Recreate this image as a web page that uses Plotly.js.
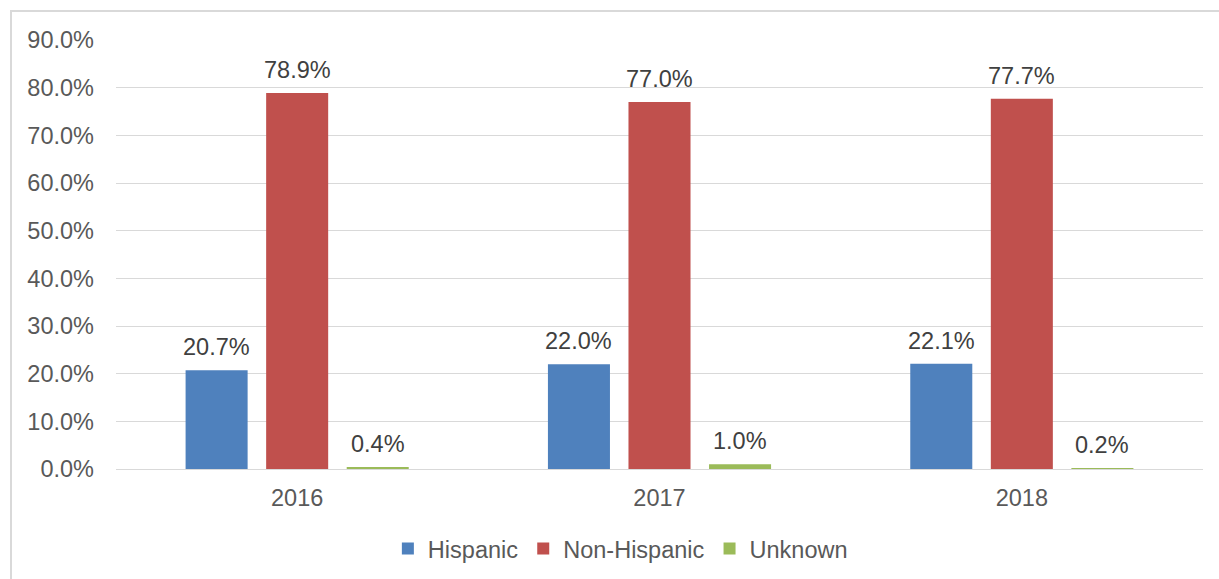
<!DOCTYPE html>
<html><head><meta charset="utf-8">
<script src="https://cdn.plot.ly/plotly-3.0.1.min.js"></script>
<style>
html,body{margin:0;padding:0;background:#fff;}
#wrap{position:relative;width:1219px;height:579px;overflow:hidden;}
#chart{width:1219px;height:579px;}
#frame{position:absolute;left:10px;top:10px;width:1300px;height:700px;border:2px solid #d9d9d9;pointer-events:none;box-sizing:border-box;}
</style></head>
<body><div id="wrap"><div id="chart"></div><div id="frame"></div></div>
<script>
var years = ['2016', '2017', '2018'];
var hispanic = [20.7, 22.0, 22.1];
var nonHispanic = [78.9, 77.0, 77.7];
var unknown = [0.4, 1.0, 0.2];
var seriesNames = ['Hispanic', 'Non-Hispanic', 'Unknown'];
var colors = ['#4f81bd', '#c0504d', '#9bbb59'];
var yTicks = [0, 10, 20, 30, 40, 50, 60, 70, 80, 90];

var FS = 23.5;
var font = {family: 'Liberation Sans, Arial, sans-serif', size: FS, color: '#595959'};
var series = [hispanic, nonHispanic, unknown];
var W = 1219, H = 579, ML = 116, MR = 16, MT = 40, MB = 110;
var bargap = 0.333, bargroupgap = 0.23;
var plotW = W - ML - MR;
var slot = plotW / years.length * (1 - bargap) / series.length;

var data = series.map(function(v, i){
  return {
    type: 'bar', name: seriesNames[i], x: years, y: v,
    marker: {color: colors[i]}, hoverinfo: 'skip'
  };
});
var annotations = [];
series.forEach(function(v, i){
  v.forEach(function(val, j){
    annotations.push({
      x: j, y: val, xref: 'x', yref: 'y',
      text: val.toFixed(1) + '%', showarrow: false,
      xanchor: 'center', yanchor: 'bottom',
      xshift: (i - (series.length - 1) / 2) * slot, yshift: 8,
      font: {family: font.family, size: FS, color: '#404040'}
    });
  });
});
var layout = {
  width: W, height: H,
  margin: {l: ML, r: MR, t: MT, b: MB, autoexpand: false},
  paper_bgcolor: '#fff', plot_bgcolor: '#fff',
  font: font,
  barmode: 'group', bargap: bargap, bargroupgap: bargroupgap,
  xaxis: {type: 'category', categoryorder: 'array', categoryarray: years, range: [-0.5, years.length - 0.5],
          showgrid: false, showline: true, linecolor: '#d9d9d9', linewidth: 1,
          ticks: '', tickfont: font, ticklabelstandoff: 8, automargin: false},
  yaxis: {range: [0, 90], tickvals: yTicks, ticktext: yTicks.map(function(t){return t.toFixed(1)+'%';}),
          showgrid: true, gridcolor: '#d9d9d9', gridwidth: 1, zeroline: false, showline: false,
          ticks: '', tickfont: font, ticklabelstandoff: 21, automargin: false},
  annotations: annotations,
  showlegend: true,
  legend: {orientation: 'h', x: 0.464, xanchor: 'center', y: -0.186, yanchor: 'middle',
           font: font, itemwidth: 30, traceorder: 'normal'}
};
Plotly.newPlot('chart', data, layout, {displayModeBar: false, staticPlot: true});
</script></body></html>
